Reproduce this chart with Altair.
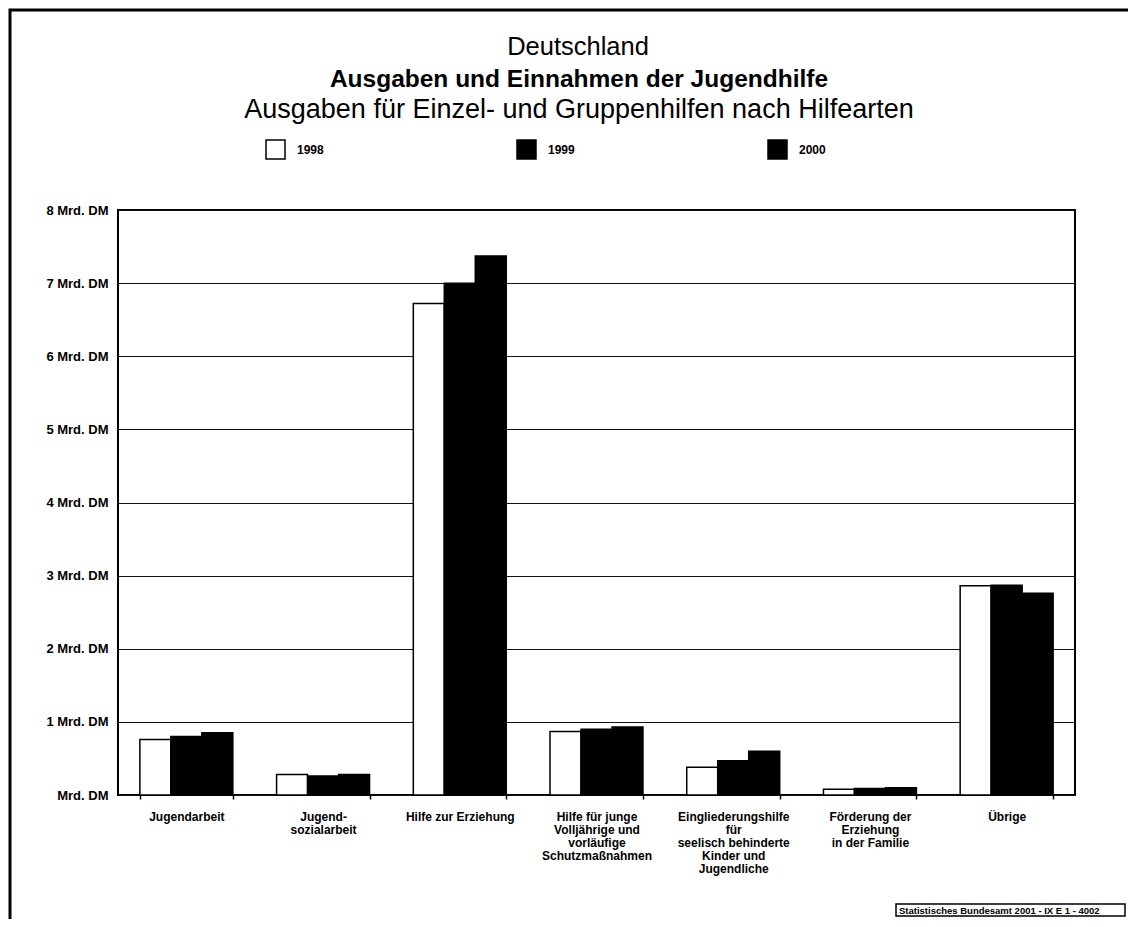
import altair as alt
import pandas as pd

FONT = "Liberation Sans"

CATEGORIES = [
    "Jugendarbeit",
    "Jugend-|sozialarbeit",
    "Hilfe zur Erziehung",
    "Hilfe für junge|Volljährige und|vorläufige|Schutzmaßnahmen",
    "Eingliederungshilfe|für|seelisch behinderte|Kinder und|Jugendliche",
    "Förderung der|Erziehung|in der Familie",
    "Übrige",
]
YEARS = ["1998", "1999", "2000"]
V1998 = [0.76, 0.28, 6.72, 0.87, 0.38, 0.08, 2.86]
V1999 = [0.80, 0.26, 7.00, 0.90, 0.47, 0.09, 2.87]
V2000 = [0.85, 0.28, 7.37, 0.93, 0.60, 0.10, 2.76]
Y_TICKS = [0, 1, 2, 3, 4, 5, 6, 7, 8]

TITLE_1 = "Deutschland"
TITLE_2 = "Ausgaben und Einnahmen der Jugendhilfe"
TITLE_3 = "Ausgaben für Einzel- und Gruppenhilfen nach Hilfearten"
SOURCE = "Statistisches Bundesamt 2001 - IX E 1  - 4002"

rows = []
for year, vals in zip(YEARS, [V1998, V1999, V2000]):
    for cat, v in zip(CATEGORIES, vals):
        rows.append({"cat": cat, "year": year, "value": v})
df = pd.DataFrame(rows)

bars = alt.Chart(df).mark_bar(stroke="black", strokeWidth=1.5).encode(
    x=alt.X(
        "cat:N",
        sort=CATEGORIES,
        scale=alt.Scale(paddingInner=0.32, paddingOuter=0.16),
        axis=alt.Axis(
            title=None,
            labelExpr="split(datum.label, '|')",
            labelAngle=0,
            labelFont=FONT,
            labelFontWeight="bold",
            labelFontSize=12,
            labelColor="black",
            labelPadding=12,
            labelLineHeight=13,
            labelLimit=300,
            labelBaseline="top",
            labelAlign="center",
            ticks=True,
            tickBand="extent",
            tickSize=4,
            tickColor="black",
            tickWidth=1.5,
            domain=False,
            grid=False,
        ),
    ),
    xOffset=alt.XOffset("year:N", sort=YEARS,
                        scale=alt.Scale(paddingInner=0, paddingOuter=0)),
    y=alt.Y(
        "value:Q",
        scale=alt.Scale(domain=[0, 8], nice=False),
        axis=alt.Axis(
            title=None,
            values=Y_TICKS,
            labelExpr="datum.value == 0 ? 'Mrd. DM' : datum.value + ' Mrd. DM'",
            labelFont=FONT,
            labelFontWeight="bold",
            labelFontSize=13,
            labelColor="black",
            labelPadding=10,
            ticks=False,
            domain=False,
            grid=True,
            gridColor="#111111",
            gridWidth=1,
        ),
    ),
    color=alt.Color(
        "year:N",
        sort=YEARS,
        scale=alt.Scale(domain=YEARS, range=["white", "black", "black"]),
        legend=alt.Legend(
            title=None,
            orient="none",
            legendX=147,
            legendY=-71,
            direction="horizontal",
            symbolType="square",
            symbolSize=361,
            symbolStrokeColor="black",
            symbolStrokeWidth=1.5,
            labelFont=FONT,
            labelFontWeight="bold",
            labelFontSize=12,
            labelColor="black",
            labelOffset=11,
            columnPadding=190,
            padding=0,
        ),
    ),
)


def text_layer(txt, x, y, size, weight, align="center"):
    return alt.Chart(pd.DataFrame({"t": [txt]})).mark_text(
        font=FONT, fontSize=size, fontWeight=weight, color="black",
        align=align, baseline="alphabetic",
    ).encode(x=alt.value(x), y=alt.value(y), text="t:N")


t1 = text_layer(TITLE_1, 460, -155, 25.5, "normal")
t2 = text_layer(TITLE_2, 461, -123, 24.5, "bold")
t3 = text_layer(TITLE_3, 461, -92, 27, "normal")

one = pd.DataFrame({"a": [0]})
frame = alt.Chart(one).mark_rect(filled=False, stroke="black", strokeWidth=3).encode(
    x=alt.value(-108), x2=alt.value(1040), y=alt.value(-200), y2=alt.value(740)
)
src_box = alt.Chart(one).mark_rect(fill="white", stroke="black", strokeWidth=1.5).encode(
    x=alt.value(778), x2=alt.value(1007), y=alt.value(694), y2=alt.value(706)
)
src_text = text_layer(SOURCE, 781, 704, 9.5, "bold", align="left")

chart = alt.layer(frame, bars, t1, t2, t3, src_box, src_text).properties(
    width=957,
    height=585,
    autosize=alt.AutoSizeParams(type="none"),
    padding={"left": 110, "top": 202, "right": 53, "bottom": 124},
    background="white",
).configure_view(stroke="black", strokeWidth=2)

chart.save("out.html", embed_options={"renderer": "svg", "actions": False})
